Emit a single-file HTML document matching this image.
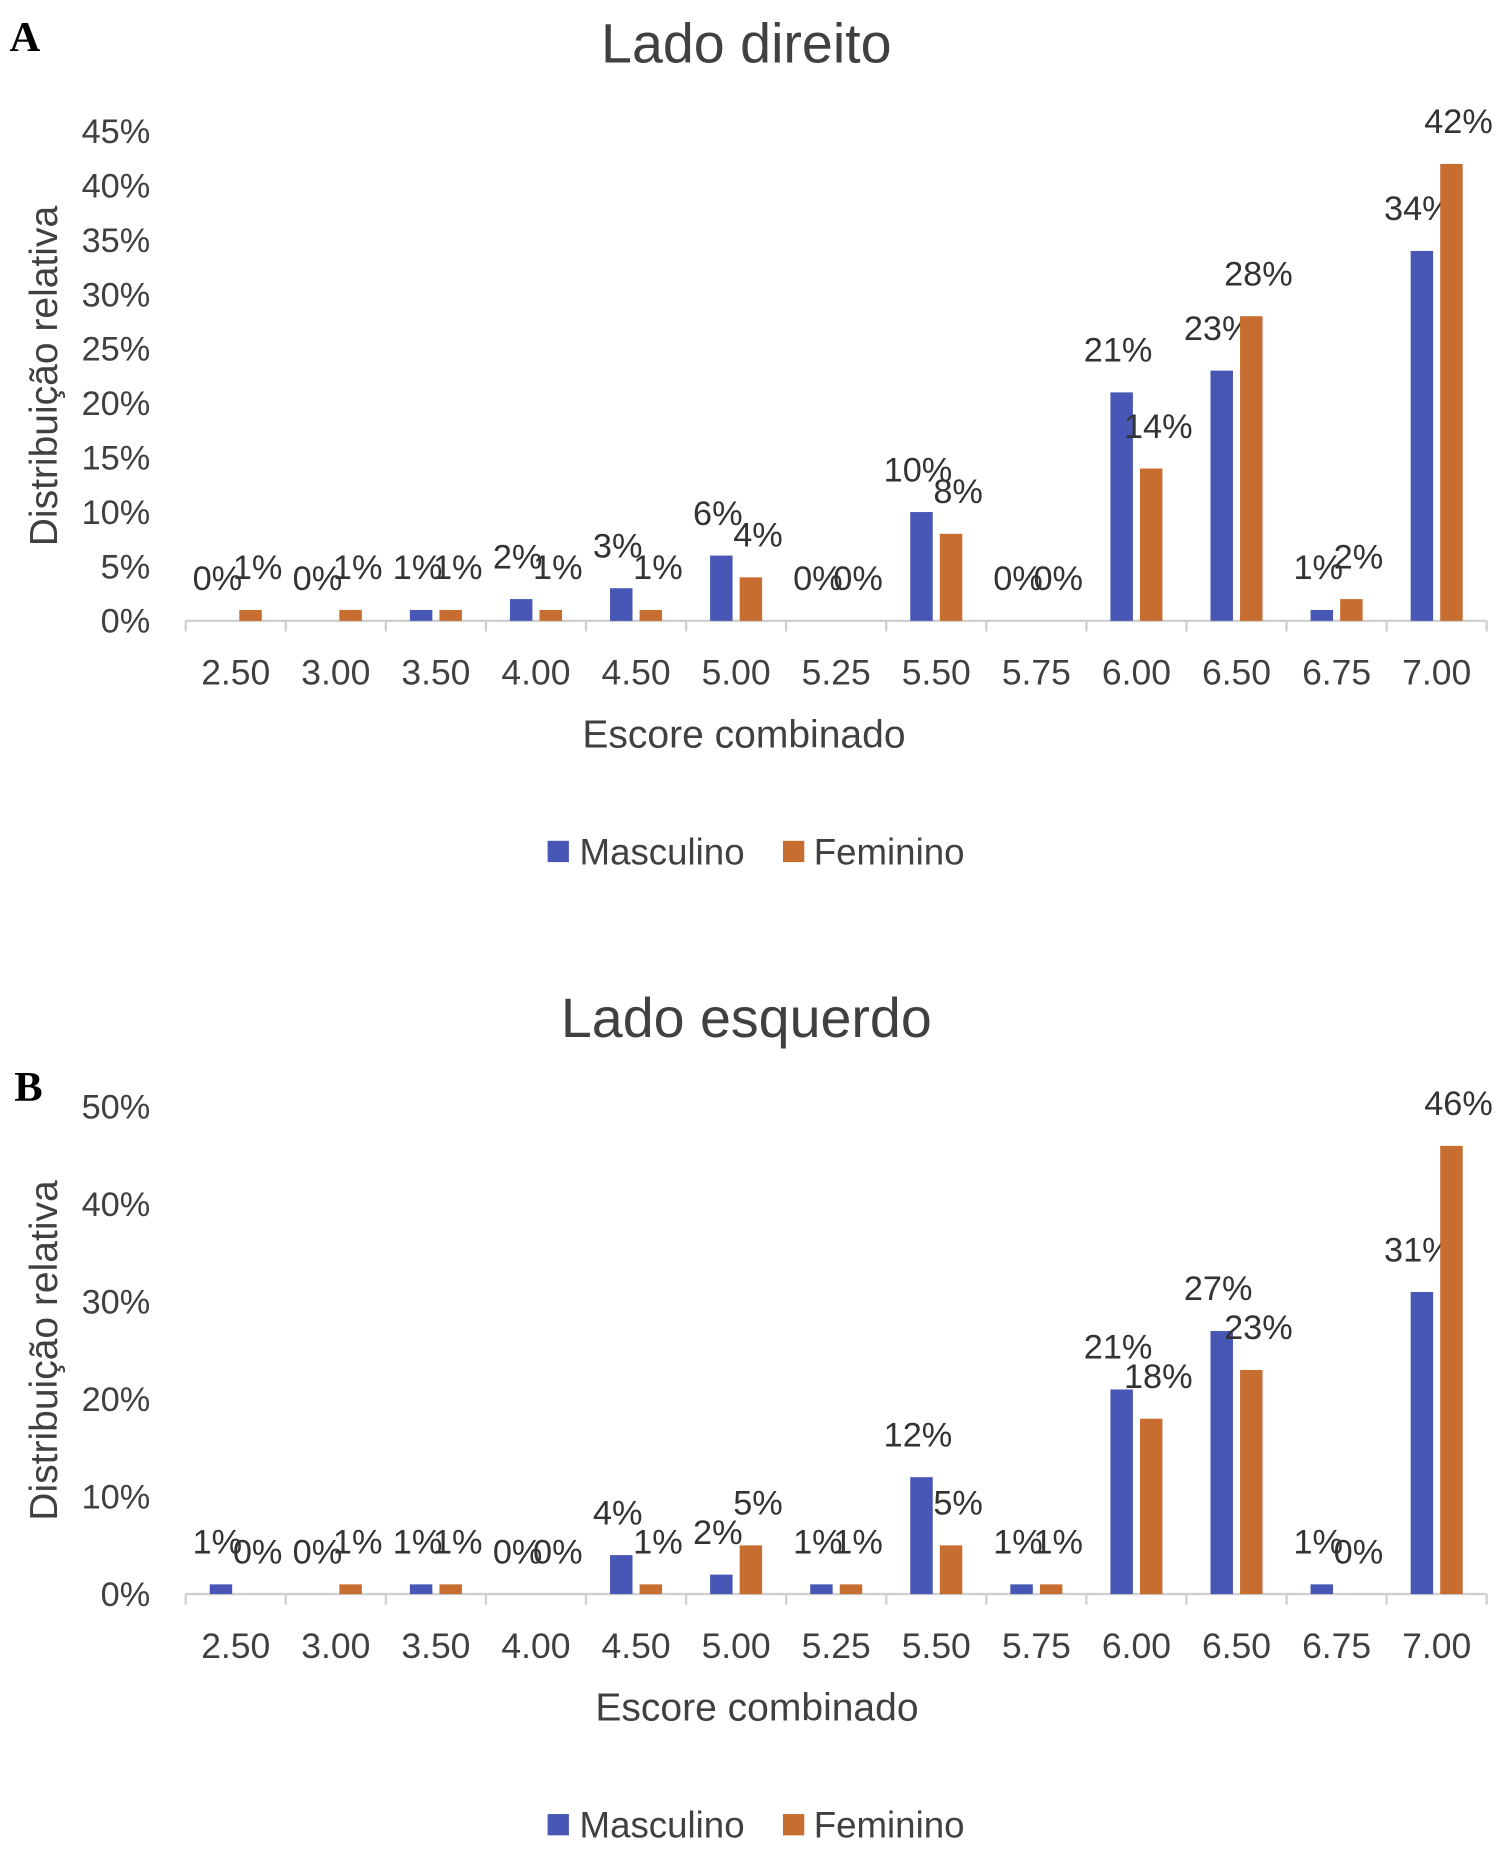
<!DOCTYPE html>
<html><head><meta charset="utf-8"><style>
html,body{margin:0;padding:0;background:#fff}
svg{display:block}
text{font-family:"Liberation Sans",sans-serif;fill:#404040}
</style></head><body>
<svg id="root" width="1508" height="1859" viewBox="0 0 1275 1572" preserveAspectRatio="none" xmlns="http://www.w3.org/2000/svg">
<text x="8" y="43" style="font-family:'Liberation Serif',serif;font-weight:bold;font-size:36px;fill:#000">A</text>
<text x="12" y="931" style="font-family:'Liberation Serif',serif;font-weight:bold;font-size:36px;fill:#000">B</text>
</svg>
<script>
const categories=["2.50","3.00","3.50","4.00","4.50","5.00","5.25","5.50","5.75","6.00","6.50","6.75","7.00"];
const seriesNames=["Masculino","Feminino"];
const rightMasc=[0,0,1,2,3,6,0,10,0,21,23,1,34];
const rightFem=[1,1,1,1,1,4,0,8,0,14,28,2,42];
const leftMasc=[1,0,1,0,4,2,1,12,1,21,27,1,31];
const leftFem=[0,1,1,0,1,5,1,5,1,18,23,0,46];
const rightTicks=[0,5,10,15,20,25,30,35,40,45];
const leftTicks=[0,10,20,30,40,50];
const colors=["#4857b5","#c66d2f"];
const NS="http://www.w3.org/2000/svg";
const root=document.getElementById('root');
function el(tag,attrs,parent,txt){const e=document.createElementNS(NS,tag);for(const k in attrs)e.setAttribute(k,attrs[k]);if(txt!==undefined)e.textContent=txt;(parent||root).appendChild(e);return e;}
function chart(id,title,titleY,top,base,ticks,m,f){
  const g=el('g',{});
  
  
  const x0=157,x1=1257,step=(x1-x0)/categories.length;
  const maxT=ticks[ticks.length-1];
  const y=v=>base-(v/maxT)*(base-top);
  const xc=i=>x0+step*(i+0.5);
  const t=el('text',{x:631,y:titleY,'text-anchor':'middle','font-size':47},g,title);
  
  
  ticks.forEach(v=>{const tt=el('text',{x:127,y:y(v)+10,'text-anchor':'end','font-size':29},g,v+'%');
    
    });
  const yt=el('text',{x:0,y:0,'text-anchor':'middle','font-size':33,transform:`translate(48,${(top+base)/2}) rotate(-90)`},g,'Distribuição relativa');
  
  
  const ax=el('line',{x1:x0,x2:x1,y1:base,y2:base,stroke:'#d0d0d0','stroke-width':2},g);
  
  
  for(let i=0;i<=categories.length;i++){const tk=el('line',{x1:x0+step*i,x2:x0+step*i,y1:base,y2:base+9,stroke:'#d0d0d0','stroke-width':2},g);
    
    }
  categories.forEach((c,i)=>{
    const xl=el('text',{x:xc(i),y:base+54,'text-anchor':'middle','font-size':30},g,c);
    
    
    [m,f].forEach((arr,s)=>{
      const v=arr[i];const bx=s===0?xc(i)-22:xc(i)+3;
      const r=el('rect',{x:bx,y:y(v),width:19,height:base-y(v),fill:colors[s]},g);
      
      
      const lx=bx+9.5+(s===0?-3:6);
      const lb=el('text',{x:lx,y:y(v)-26,'text-anchor':'middle','font-size':29,style:'fill:#333'},g,v+'%');
      
      
    });
  });
  const xt=el('text',{x:id==='chart-right'?629:640,y:base+107,'text-anchor':'middle','font-size':33},g,'Escore combinado');
  
  
  const ly=base+195;
  const l1=el('rect',{x:463,y:ly-9,width:18,height:18,fill:colors[0]},g);
  
  
  const l1t=el('text',{x:490,y:ly+11,'font-size':31},g,'Masculino');
  
  
  const l2=el('rect',{x:662,y:ly-9,width:18,height:18,fill:colors[1]},g);
  
  
  const l2t=el('text',{x:688,y:ly+11,'font-size':31},g,'Feminino');
  
  
}
chart('chart-right','Lado direito',53,111,525,rightTicks,rightMasc,rightFem);
chart('chart-left','Lado esquerdo',877,936,1348,leftTicks,leftMasc,leftFem);
</script>
</body></html>
